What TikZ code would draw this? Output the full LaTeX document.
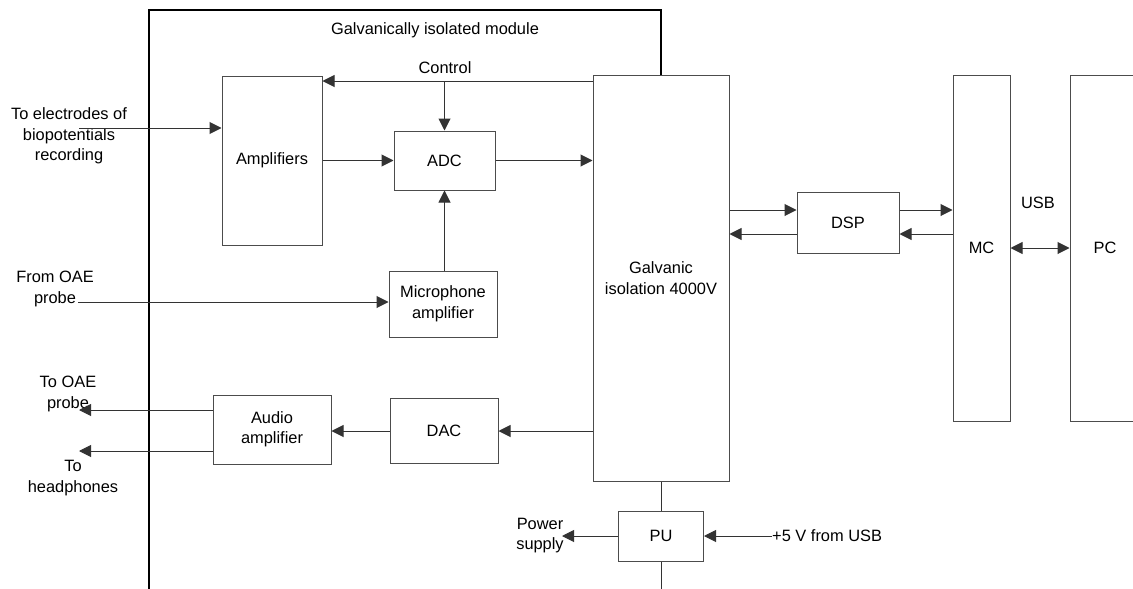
\documentclass[tikz,border=0pt]{standalone}
\usepackage{fontspec}
\setmainfont{Liberation Sans}
\usetikzlibrary{arrows.meta}
\begin{document}
\begin{tikzpicture}[x=1pt,y=-1pt,
  every node/.style={font=\fontsize{16.4}{20.5}\selectfont, inner sep=0pt},
  blk/.style={draw=black!70, line width=1pt, align=center},
  arr/.style={draw=black!80, line width=1pt, -{Triangle[length=12pt,width=12pt]}},
  dbl/.style={draw=black!80, line width=1pt, {Triangle[length=12pt,width=12pt]}-{Triangle[length=12pt,width=12pt]}},
  lbl/.style={align=center},
  border/.style={draw=black, line width=1.6pt},
  link/.style={draw=black!80, line width=1pt}]
\useasboundingbox (0,0) rectangle (1133,589);
% blocks
\node[blk, minimum width=100pt, minimum height=169pt] (amp) at (272,160.5) {Amplifiers};
\node[blk, minimum width=101pt, minimum height=59pt] (adc) at (444.5,160.5) {ADC};
\node[blk, minimum width=108pt, minimum height=66pt] (mic) at (443,304) {Microphone\\amplifier};
\node[blk, minimum width=136pt, minimum height=406pt] (gal) at (661,278) {Galvanic\\isolation 4000V};
\node[blk, minimum width=102pt, minimum height=61pt] (dsp) at (848,222.5) {DSP};
\node[blk, minimum width=57pt, minimum height=346pt] (mc) at (981.5,248) {MC};
\node[blk, minimum width=70pt, minimum height=346pt] (pc) at (1105,248) {PC};
\node[blk, minimum width=118pt, minimum height=69pt] (aud) at (272,429.5) {Audio\\amplifier};
\node[blk, minimum width=108pt, minimum height=65pt] (dac) at (444,430.5) {DAC};
\node[blk, minimum width=85pt, minimum height=50pt] (pu) at (661,536) {PU};
% module border
\draw[border] (149,589) -- (149,10) -- (661,10) -- (gal.north);
\draw[link] (gal.south) -- (pu.north);
\draw[link] (pu.south) -- (661,589);
% labels
\node (mod) at (435,30) {Galvanically isolated module};
\node (ctl) at (445,68) {Control};
\node[lbl] (elec) at (69,136) {To electrodes of\\biopotentials\\recording};
\node[lbl] (oaein) at (55,289) {From OAE\\probe};
\node[lbl] (oaeout) at (68,394) {To OAE\\probe};
\node[lbl] (head) at (73,478) {To\\headphones};
\node[lbl] (pwr) at (540,535.5) {Power\\supply};
\node[anchor=west] (usb5) at (772,536) {+5 V from USB};
\node (usb) at (1038,203) {USB};
% endpoints
\coordinate (e1) at (79,128);
\coordinate (e2) at (78,302);
\coordinate (e3) at (79,410);
\coordinate (e4) at (79,451);
\coordinate (e5) at (562,536);
\coordinate (cb) at (adc.north |- 0,81);
% connectors
\draw[arr] (gal.west |- 0,81) -- (amp.east |- 0,81);
\draw[arr] (cb) -- (adc.north);
\draw[arr] (e1) -- (amp.west |- e1);
\draw[arr] (amp.east |- adc.west) -- (adc.west);
\draw[arr] (adc.east) -- (gal.west |- adc.east);
\draw[arr] (adc.south |- mic.north) -- (adc.south);
\draw[arr] (e2) -- (mic.west |- e2);
\draw[arr] (gal.west |- 0,431) -- (dac.east |- 0,431);
\draw[arr] (dac.west |- 0,431) -- (aud.east |- 0,431);
\draw[arr] (aud.west |- e3) -- (e3);
\draw[arr] (aud.west |- e4) -- (e4);
\draw[arr] (gal.east |- 0,210) -- (dsp.west |- 0,210);
\draw[arr] (dsp.west |- 0,234) -- (gal.east |- 0,234);
\draw[arr] (dsp.east |- 0,210) -- (mc.west |- 0,210);
\draw[arr] (mc.west |- 0,234) -- (dsp.east |- 0,234);
\draw[dbl] (mc.east |- 0,248) -- (pc.west |- 0,248);
\draw[arr] (pu.west) -- (e5);
\draw[arr] (usb5.west) -- (pu.east);
\end{tikzpicture}
\end{document}
